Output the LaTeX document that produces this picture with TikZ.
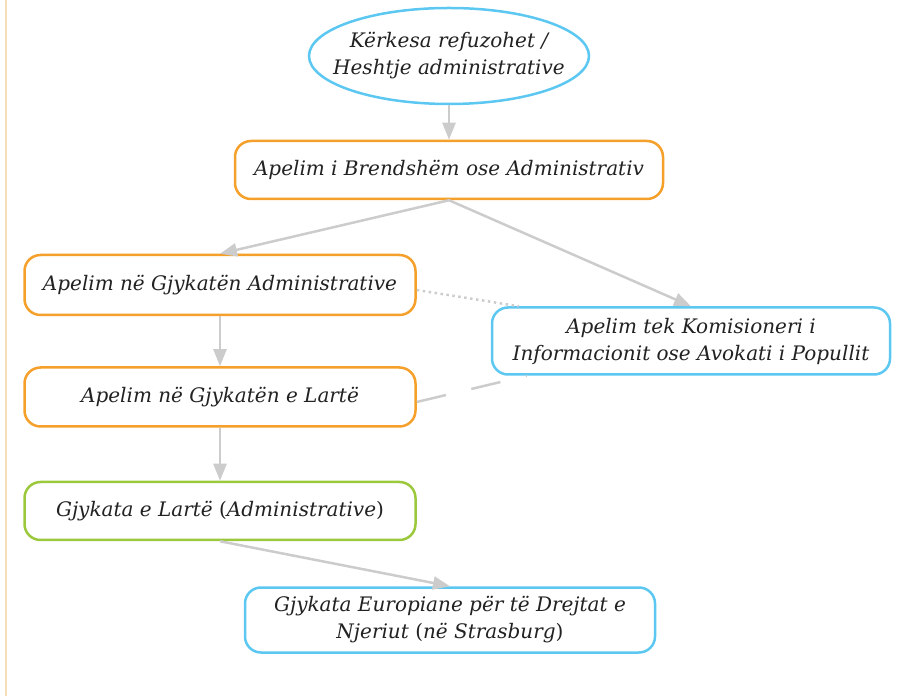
\documentclass[tikz,border=0pt]{standalone}
\usepackage{fontspec}
\setmainfont{DejaVu Serif}
\usepackage{tikz}
\usepackage{xcolor}
\usetikzlibrary{shapes.geometric,arrows.meta}
\definecolor{stepblue}{HTML}{5cc8f2}
\definecolor{steporange}{HTML}{f5a02a}
\definecolor{stepgreen}{HTML}{9bc83c}
\definecolor{linkgray}{HTML}{cccccc}
\definecolor{margintan}{HTML}{f5dfb8}
\definecolor{textgray}{HTML}{222222}

\tikzset{
    stepbox/.style = {draw, rectangle, rounded corners = 16pt, line width = 2.5pt, fill = white,
        text = textgray, align = center, inner sep = 0pt,
        font = \itshape\fontsize{20}{27}\selectfont},
    link/.style = {->, > = {Triangle[length = 17pt, width = 13pt]}, line width = 2.5pt, color = linkgray}
}

\begin{document}
\begin{tikzpicture}[x = 1pt, y = 1pt]
        \useasboundingbox (0, 0) rectangle (904, 696);
        % Margin rule
        \draw [line width = 2pt, color = margintan] (6, 0) -- (6, 696);

        % Nodes
        \node [stepbox, ellipse, draw = stepblue, inner xsep = -17pt, minimum width = 280pt, minimum height = 96pt] (a) at (449, 640) {K\"erkesa refuzohet /\\Heshtje administrative};
        \node [stepbox, draw = steporange, minimum width = 428pt, minimum height = 58pt] (b) at (449, 526) {Apelim i Brendsh\"em ose Administrativ};
        \node [stepbox, draw = steporange, minimum width = 391pt, minimum height = 60pt] (c) at (220, 411) {Apelim n\"e Gjykat\"en Administrative};
        \node [stepbox, draw = steporange, minimum width = 391pt, minimum height = 59pt] (d) at (220, 299) {Apelim n\"e Gjykat\"en e Lart\"e};
        \node [stepbox, draw = stepgreen, minimum width = 391pt, minimum height = 58pt] (e) at (220, 185) {Gjykata e Lart\"e \textup{(}Administrative\textup{)}};
        \node [stepbox, draw = stepblue, minimum width = 398pt, minimum height = 67pt] (f) at (691, 355) {Apelim tek Komisioneri i\\Informacionit ose Avokati i Popullit};
        \node [stepbox, draw = stepblue, minimum width = 410pt, minimum height = 65pt] (g) at (450, 76) {Gjykata Europiane p\"er t\"e Drejtat e\\Njeriut \textup{(}n\"e Strasburg\textup{)}};

        % Draw the links
        \draw [link] (a) -- (b);
        \draw [link] (b.south) -- (c.north);
        \draw [link] (b.south) -- (f.north);
        \draw [link] (c) -- (d);
        \draw [link] (d) -- (e);
        \draw [link] (e.south) -- (g.north);

        % Side links
        \draw [line width = 2.5pt, color = linkgray, dash pattern = on 2.5pt off 3.5pt] ([yshift = -5pt]c.east) -- ([xshift = 28pt]f.north west);
        \draw [line width = 2.5pt, color = linkgray, dash pattern = on 30pt off 26pt] ([yshift = -5pt]d.east) -- ([xshift = 36pt]f.south west);

    \end{tikzpicture}
\end{document}
